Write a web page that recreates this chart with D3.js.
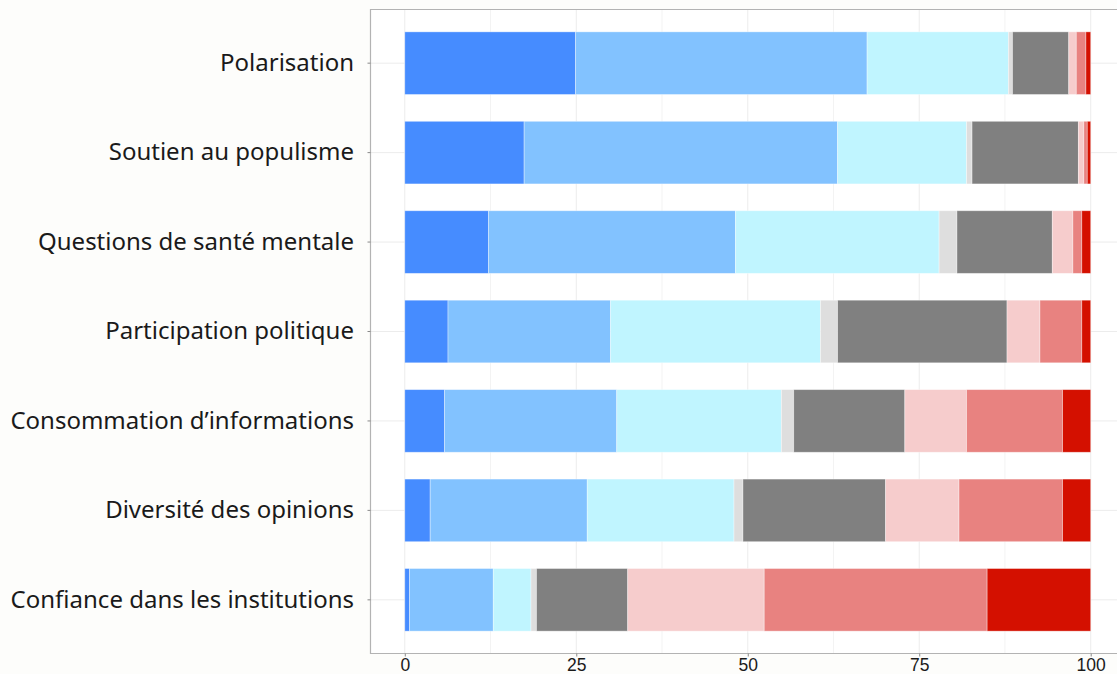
<!DOCTYPE html>
<html>
<head>
<meta charset="utf-8">
<script src="https://cdn.jsdelivr.net/npm/d3@7"></script>
<style>
  html, body { margin: 0; padding: 0; background: #fdfdfb; }
  svg { display: block; }
</style>
</head>
<body>
<svg id="chart" width="1117" height="674"></svg>
<script>
const categories = [
  "Polarisation",
  "Soutien au populisme",
  "Questions de santé mentale",
  "Participation politique",
  "Consommation d’informations",
  "Diversité des opinions",
  "Confiance dans les institutions"
];
const seriesKeys = ["s1","s2","s3","s4","s5","s6","s7","s8"];
const s1 = [24.9, 17.4, 12.2, 6.3, 5.8, 3.7, 0.7];
const s2 = [42.5, 45.7, 36.0, 23.7, 25.1, 22.9, 12.2];
const s3 = [20.6, 18.8, 29.7, 30.6, 24.0, 21.4, 5.5];
const s4 = [0.6, 0.8, 2.6, 2.5, 1.8, 1.3, 0.8];
const s5 = [8.2, 15.5, 13.9, 24.7, 16.2, 20.8, 13.3];
const s6 = [1.1, 0.8, 3.0, 4.8, 9.0, 10.7, 19.9];
const s7 = [1.4, 0.5, 1.3, 6.1, 14.0, 15.1, 32.5];
const s8 = [0.7, 0.5, 1.3, 1.3, 4.1, 4.1, 15.1];
const xTicks = [0, 25, 50, 75, 100];
const colors = ["#468cff", "#82c2ff", "#c0f5ff", "#dedede", "#808080", "#f6cccc", "#e88280", "#d41000"];

const seriesVals = [s1, s2, s3, s4, s5, s6, s7, s8];
const rows = categories.map((c, i) => {
  const o = { cat: c };
  seriesKeys.forEach((k, j) => o[k] = seriesVals[j][i]);
  return o;
});
const stacked = d3.stack().keys(seriesKeys)(rows);

const svg = d3.select("#chart");
const panel = { left: 370.5, top: 9.5, right: 1125, bottom: 653.5 };

const x = d3.scaleLinear().domain([-5, 105]).range([panel.left, panel.right]);
const y = d3.scaleBand().domain(categories)
  .range([panel.top, panel.bottom]).paddingInner(0.3).paddingOuter(0.25);

// panel background
svg.append("rect").attr("x", panel.left).attr("y", panel.top)
  .attr("width", panel.right - panel.left).attr("height", panel.bottom - panel.top)
  .attr("fill", "#ffffff");

// minor gridlines
const minor = [12.5, 37.5, 62.5, 87.5];
svg.append("g").selectAll("line").data(minor).join("line")
  .attr("x1", d => x(d)).attr("x2", d => x(d))
  .attr("y1", panel.top).attr("y2", panel.bottom)
  .attr("stroke", "#f3f3f3").attr("stroke-width", 1);
// major gridlines
svg.append("g").selectAll("line").data(xTicks).join("line")
  .attr("x1", d => x(d)).attr("x2", d => x(d))
  .attr("y1", panel.top).attr("y2", panel.bottom)
  .attr("stroke", "#ececec").attr("stroke-width", 1);
svg.append("g").selectAll("line").data(categories).join("line")
  .attr("x1", panel.left).attr("x2", panel.right)
  .attr("y1", d => y(d) + y.bandwidth() / 2).attr("y2", d => y(d) + y.bandwidth() / 2)
  .attr("stroke", "#ececec").attr("stroke-width", 1);

// bars
svg.append("g").selectAll("g").data(stacked).join("g")
  .attr("fill", (d, i) => colors[i])
  .selectAll("rect").data(d => d).join("rect")
  .attr("x", d => x(d[0]))
  .attr("width", d => Math.max(0, x(d[1]) - x(d[0])))
  .attr("y", d => y(d.data.cat))
  .attr("height", y.bandwidth())
  .attr("stroke", "rgba(255,255,255,0.45)")
  .attr("stroke-width", 0.8);

// panel border (left, top, bottom)
svg.append("path")
  .attr("d", `M${panel.right},${panel.top}H${panel.left}V${panel.bottom}H${panel.right}`)
  .attr("fill", "none").attr("stroke", "#b3b3b3").attr("stroke-width", 1.2);

// x axis
const xAxis = d3.axisBottom(x).tickValues(xTicks).tickSize(3).tickPadding(2.5).tickFormat(d3.format("d"));
const gx = svg.append("g").attr("transform", `translate(0,${panel.bottom})`).call(xAxis);
gx.select(".domain").remove();
gx.selectAll(".tick line").attr("stroke", "#8a8a8a");
gx.selectAll(".tick text").attr("fill", "#1a1a1a")
  .style("font-family", "'Liberation Sans', Arial, sans-serif").style("font-size", "17.5px");

// y axis
const yAxis = d3.axisLeft(y).tickSize(3).tickPadding(13.5);
const gy = svg.append("g").attr("transform", `translate(${panel.left},0)`).call(yAxis);
gy.select(".domain").remove();
gy.selectAll(".tick line").attr("stroke", "#8a8a8a");
gy.selectAll(".tick text").attr("fill", "#1a1a1a")
  .style("font-family", "'Noto Sans', sans-serif").style("font-size", "24px");
</script>
</body>
</html>
